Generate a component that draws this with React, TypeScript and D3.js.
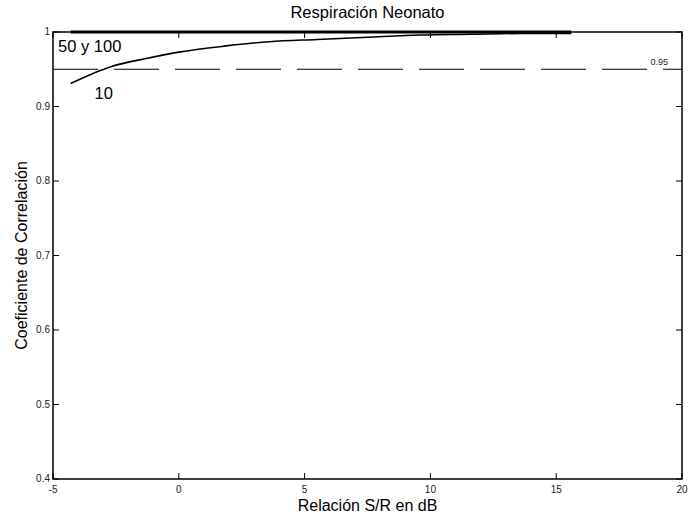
import React from "react";
import * as d3 from "d3";

const snr10 = [-4.3, -2.7, -1.3, 0, 1.8, 3.6, 5.5, 7.5, 9.6, 11.6, 13.6, 15.6];
const corr10 = [0.931, 0.9535, 0.9645, 0.973, 0.981, 0.987, 0.99, 0.993, 0.996, 0.997, 0.998, 0.998];
const snr50 = [-4.3, 0, 5, 10, 15.6];
const corr50 = [1, 1, 1, 1, 1];
const xTicks = [-5, 0, 5, 10, 15, 20];
const yTicks = [0.4, 0.5, 0.6, 0.7, 0.8, 0.9, 1];
const threshold = 0.95;

const W = 688;
const H = 521;
const M = { left: 53, right: 6, top: 32, bottom: 42 };

export default function App() {
  const x = d3.scaleLinear().domain([-5, 20]).range([M.left, W - M.right]);
  const y = d3.scaleLinear().domain([0.4, 1]).range([H - M.bottom, M.top]);
  const line = d3.line<[number, number]>().x((d) => x(d[0])).y((d) => y(d[1]));
  const smooth = d3.line<[number, number]>().x((d) => x(d[0])).y((d) => y(d[1])).curve(d3.curveMonotoneX);
  const d10 = smooth(snr10.map((v, i) => [v, corr10[i]]));
  const d50 = line(snr50.map((v, i) => [v, corr50[i]]));
  const fam = "Arial, 'Liberation Sans', Helvetica, sans-serif";
  const x0 = x(-5), x1 = x(20), y0 = y(0.4), y1 = y(1);
  return (
    <svg width={W} height={H} style={{ position: "absolute", left: 0, top: 0, background: "#fff" }} fontFamily={fam}>
      <rect x={0} y={0} width={W} height={H} fill="#fff" />
      <line x1={x0} x2={x1} y1={y(threshold)} y2={y(threshold)} stroke="#000" strokeWidth={1} strokeDasharray="45,16" />
      <text x={x(19.1)} y={y(threshold) - 4} fontSize={9} textAnchor="middle" fill="#222">0.95</text>
      <path d={d10 || ""} fill="none" stroke="#000" strokeWidth={1.6} />
      <path d={d50 || ""} fill="none" stroke="#000" strokeWidth={3} />
      <rect x={x0} y={y1} width={x1 - x0} height={y0 - y1} fill="none" stroke="#000" strokeWidth={1.5} />
      {xTicks.map((t) => (
        <g key={"x" + t}>
          <line x1={x(t)} x2={x(t)} y1={y0} y2={y0 - 6} stroke="#000" />
          <line x1={x(t)} x2={x(t)} y1={y1} y2={y1 + 6} stroke="#000" />
          <text x={x(t)} y={y0 + 14} fontSize={10} textAnchor="middle" fill="#222">{t}</text>
        </g>
      ))}
      {yTicks.map((t) => (
        <g key={"y" + t}>
          <line x1={x0} x2={x0 + 6} y1={y(t)} y2={y(t)} stroke="#000" />
          <line x1={x1} x2={x1 - 6} y1={y(t)} y2={y(t)} stroke="#000" />
          <text x={x0 - 3} y={y(t) + 3} fontSize={10} textAnchor="end" fill="#222">{t === 1 ? "1" : t.toFixed(1)}</text>
        </g>
      ))}
      <text x={x(-4.8)} y={y(0.973)} fontSize={16.5} fill="#000">50 y 100</text>
      <text x={x(-3.35)} y={y(0.91)} fontSize={16.5} fill="#000">10</text>
      <text x={(x0 + x1) / 2} y={18} fontSize={16.5} textAnchor="middle" fill="#000">Respiración Neonato</text>
      <text x={(x0 + x1) / 2} y={511} fontSize={16} textAnchor="middle" fill="#000">Relación S/R en dB</text>
      <text transform={`translate(27,${(y0 + y1) / 2}) rotate(-90)`} fontSize={16} textAnchor="middle" fill="#000">Coeficiente de Correlación</text>
    </svg>
  );
}
